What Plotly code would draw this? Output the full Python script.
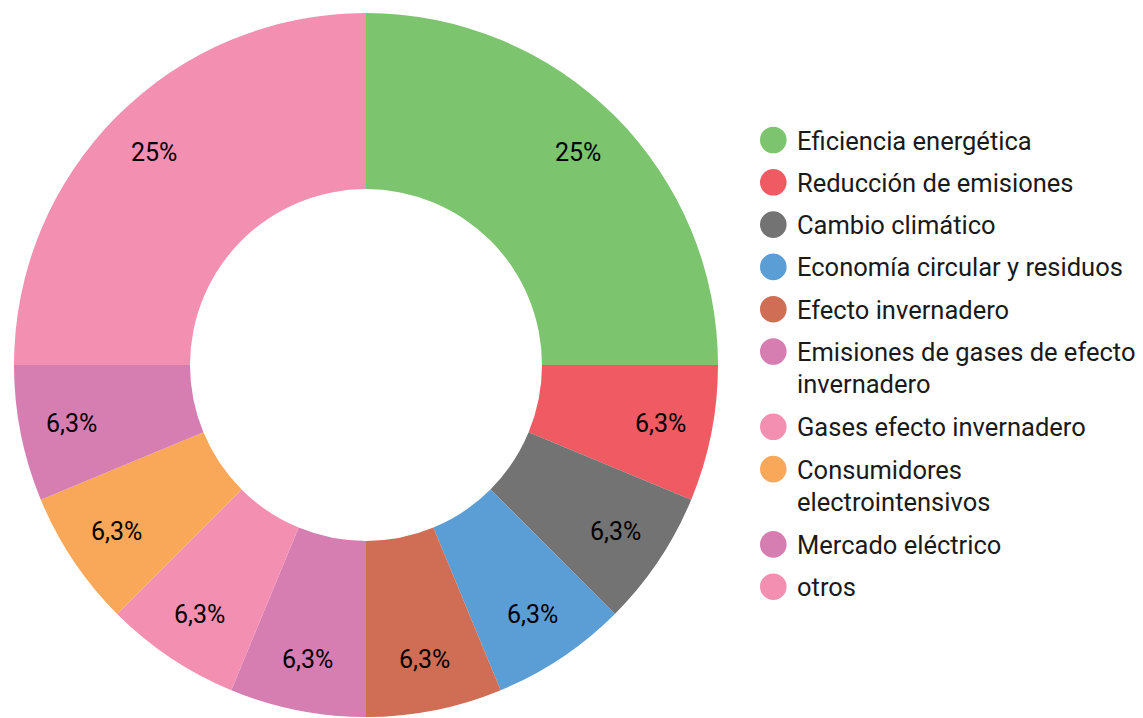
import math
from decimal import Decimal, ROUND_HALF_UP
import plotly.graph_objects as go

categories = [
    "Eficiencia energética",
    "Reducción de emisiones",
    "Cambio climático",
    "Economía circular y residuos",
    "Efecto invernadero",
    "Emisiones de gases de efecto invernadero",
    "Gases efecto invernadero",
    "Consumidores electrointensivos",
    "Mercado eléctrico",
    "otros",
]
legend_lines = [
    ["Eficiencia energética"],
    ["Reducción de emisiones"],
    ["Cambio climático"],
    ["Economía circular y residuos"],
    ["Efecto invernadero"],
    ["Emisiones de gases de efecto", "invernadero"],
    ["Gases efecto invernadero"],
    ["Consumidores", "electrointensivos"],
    ["Mercado eléctrico"],
    ["otros"],
]
values = [4, 1, 1, 1, 1, 1, 1, 1, 1, 4]
colors = ["#7cc46d", "#f05a62", "#737373", "#5b9dd5", "#cf6e55",
          "#d67db2", "#f38fb1", "#f9a859", "#d67db2", "#f38fb1"]


def pct_label(v, tot):
    p = Decimal(100 * v) / Decimal(tot)
    if p == p.to_integral_value():
        return "%d%%" % int(p)
    return str(p.quantize(Decimal("0.1"), rounding=ROUND_HALF_UP)).replace(".", ",") + "%"


total = sum(values)
texts = [pct_label(v, total) for v in values]

W, H = 1143, 718
# page body has an 8px offset; geometry below is in figure pixels
CX, CY, R = 358, 357, 352

fig = go.Figure()
fig.add_trace(go.Pie(
    labels=categories,
    values=values,
    text=texts,
    textinfo="none",
    hovertemplate="%{label}: %{text}<extra></extra>",
    marker=dict(colors=colors, line=dict(width=0)),
    hole=0.5,
    sort=False,
    direction="clockwise",
    rotation=0,
    showlegend=False,
    domain=dict(x=[(CX - R) / W, (CX + R) / W], y=[1 - (CY + R) / H, 1 - (CY - R) / H]),
))

annotations, shapes = [], []

# slice labels placed along each slice's mid-angle
cum = 0
for v, t in zip(values, texts):
    mid = (cum + v / 2) / total * 2 * math.pi
    cum += v
    r = 0.852 * R
    px = CX + r * math.sin(mid)
    py = CY - r * math.cos(mid)
    annotations.append(dict(xref="paper", yref="paper", x=px / W, y=1 - py / H,
                            xanchor="center", yanchor="middle", text=t, showarrow=False,
                            font=dict(family="Roboto", size=25, color="black")))

# custom legend with circular markers
y = 132
for lines, col in zip(legend_lines, colors):
    rr = 13.3
    shapes.append(dict(type="circle", xref="paper", yref="paper",
                       x0=(765.3 - rr) / W, x1=(765.3 + rr) / W,
                       y0=1 - (y + rr) / H, y1=1 - (y - rr) / H,
                       fillcolor=col, line=dict(width=0)))
    for k, line in enumerate(lines):
        ty = y + 32 * k
        annotations.append(dict(xref="paper", yref="paper", x=787 / W, y=1 - (ty - 16.5) / H,
                                xanchor="left", yanchor="top", text=line, showarrow=False,
                                align="left",
                                font=dict(family="Roboto", size=25.5, color="#1a1a1a")))
    y += 42.3 + 33 * (len(lines) - 1)

fig.update_layout(
    width=W, height=H,
    margin=dict(l=0, r=0, t=0, b=0),
    paper_bgcolor="white", plot_bgcolor="white",
    shapes=shapes, annotations=annotations,
)
fig.write_html("out.html")
